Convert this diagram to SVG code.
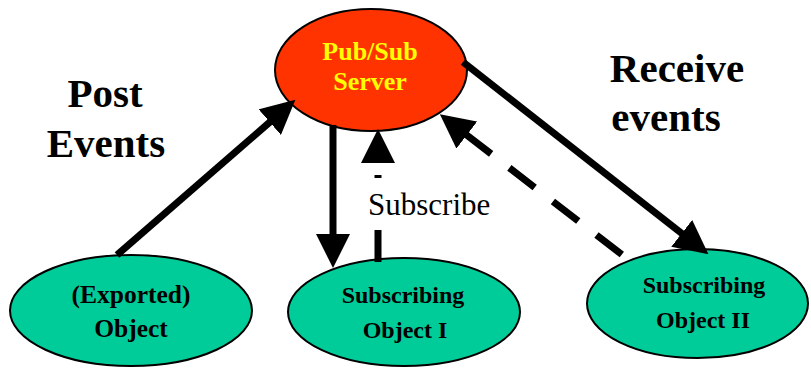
<svg xmlns="http://www.w3.org/2000/svg" width="811" height="369" viewBox="0 0 811 369">
<style>
.node{stroke:#000;stroke-width:2}
.srv{fill:#ff3300}
.obj{fill:#00cc99}
.lbl{font-family:"Liberation Serif","Times New Roman",serif;font-weight:bold;text-anchor:middle}
.srvt{fill:#ffff00;font-size:26px}
.objt{fill:#000;font-size:24px}
.big{font-family:"Liberation Serif","Times New Roman",serif;font-weight:bold;font-size:41px;fill:#000}
.sub{font-family:"Liberation Serif","Times New Roman",serif;font-size:31px;fill:#000}
.con{stroke:#000;stroke-width:7;fill:none}
.dash{stroke-dasharray:32 23}
</style>
<defs>
<marker id="ah" markerUnits="userSpaceOnUse" markerWidth="34" markerHeight="34" viewBox="0 0 34 34" refX="1" refY="17" orient="auto">
<path d="M0,0 L34,17 L0,34 Z" fill="#000"/>
</marker>
<path id="head" d="M0,-17 L34,0 L0,17 Z" fill="#000"/>
</defs>
<rect width="811" height="369" fill="#fff"/>
<text class="big" x="105" y="107" text-anchor="middle">Post</text>
<text class="big" x="106" y="157" text-anchor="middle">Events</text>
<text class="big" x="677" y="82" text-anchor="middle">Receive</text>
<text class="big" x="666" y="131" text-anchor="middle">events</text>
<g id="server">
<ellipse class="node srv" cx="371" cy="70" rx="96" ry="61"/>
<text class="lbl srvt" x="370" y="60">Pub/Sub</text>
<text class="lbl srvt" x="370" y="90">Server</text>
</g>
<g id="exported">
<ellipse class="node obj" cx="131" cy="310.5" rx="121" ry="55.5"/>
<text class="lbl objt" x="131" y="303" style="font-size:25.5px">(Exported)</text>
<text class="lbl objt" x="131" y="337" style="font-size:25.5px">Object</text>
</g>
<g id="sub1">
<ellipse class="node obj" cx="404" cy="312" rx="116" ry="54"/>
<text class="lbl objt" x="403" y="303">Subscribing</text>
<text class="lbl objt" x="405" y="338">Object I</text>
</g>
<g id="sub2">
<ellipse class="node obj" cx="697.5" cy="303.5" rx="110.5" ry="54.5"/>
<text class="lbl objt" x="704" y="293">Subscribing</text>
<text class="lbl objt" x="703" y="328">Object II</text>
</g>
<g id="connectors">
<line class="con" x1="117" y1="255" x2="270.5" y2="121.5" marker-end="url(#ah)"/>
<line class="con" x1="333" y1="125" x2="333" y2="235" marker-end="url(#ah)"/>
<line class="con" x1="463" y1="62" x2="682.5" y2="234" marker-end="url(#ah)"/>
<line class="con dash" x1="625" y1="257" x2="466" y2="134.5" stroke-dashoffset="-4" marker-end="url(#ah)"/>
<path class="con" d="M378,262 V230 M378,178 V175"/>
<use href="#head" transform="translate(378,163) rotate(-90)"/>
</g>
<text class="sub" x="368" y="215">Subscribe</text>
</svg>
